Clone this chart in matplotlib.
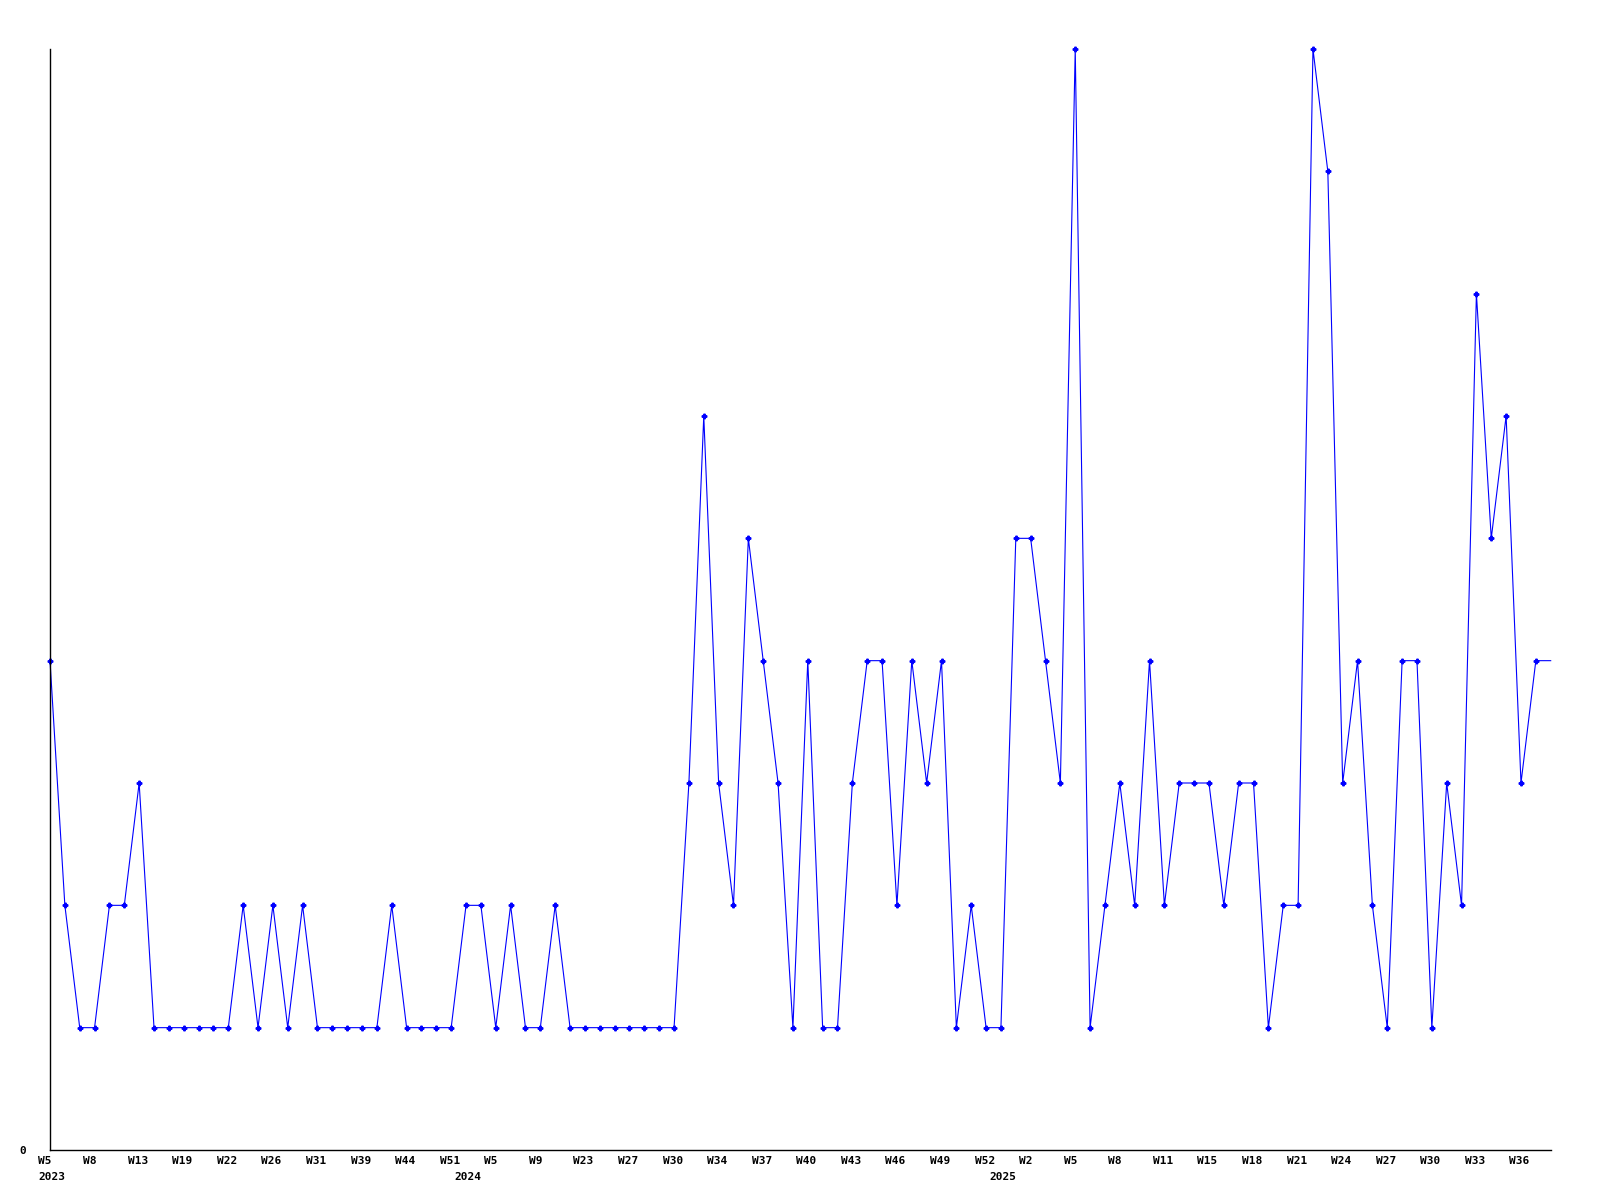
import matplotlib
matplotlib.use("Agg")
import matplotlib.pyplot as plt
from matplotlib.transforms import ScaledTranslation

# weekly counts, one point per week (last one is the open week, no marker)
values = [4, 2, 1, 1, 2, 2, 3, 1, 1, 1,
          1, 1, 1, 2, 1, 2, 1, 2, 1, 1,
          1, 1, 1, 2, 1, 1, 1, 1, 2, 2,
          1, 2, 1, 1, 2, 1, 1, 1, 1, 1,
          1, 1, 1, 3, 6, 3, 2, 5, 4, 3,
          1, 4, 1, 1, 3, 4, 4, 2, 4, 3,
          4, 1, 2, 1, 1, 5, 5, 4, 3, 9,
          1, 2, 3, 2, 4, 2, 3, 3, 3, 2,
          3, 3, 1, 2, 2, 9, 8, 3, 4, 2,
          1, 4, 4, 1, 3, 2, 7, 5, 6, 3,
          4, 4]

tick_pos = list(range(0, 100, 3))
tick_labels = ["W5", "W8", "W13", "W19", "W22", "W26", "W31", "W39", "W44", "W51",
               "W5", "W9", "W23", "W27", "W30", "W34", "W37", "W40", "W43", "W46",
               "W49", "W52", "W2", "W5", "W8", "W11", "W15", "W18", "W21", "W24",
               "W27", "W30", "W33", "W36"]
year_pos = [0, 28, 64]
year_labels = ["2023", "2024", "2025"]

x = list(range(len(values)))

fig = plt.figure(figsize=(16, 12), dpi=100)
ax = fig.add_axes([50 / 1600, 1 - 1150 / 1200, 1500.7 / 1600, 1101 / 1200])

ax.plot(x, values, color="#0000ff", linewidth=0.8, marker="P", markersize=3.3,
        markevery=list(range(len(values) - 1)), clip_on=False)

ax.set_xlim(0, len(values) - 1)
ax.set_ylim(0, 9)

for side in ["top", "right"]:
    ax.spines[side].set_visible(False)
for side in ["left", "bottom"]:
    ax.spines[side].set_linewidth(1.0)
    ax.spines[side].set_color("black")

font = dict(family="DejaVu Sans Mono", weight="bold", size=8)

ax.set_yticks([0])
ax.set_yticklabels(["0"], fontdict=font)
ax.tick_params(axis="y", length=0, pad=17)

ax.xaxis.remove_overlapping_locs = False
ax.set_xticks(tick_pos)
ax.set_xticklabels(tick_labels, fontdict=font, ha="left")
ax.set_xticks(year_pos, minor=True)
ax.set_xticklabels(year_labels, minor=True, fontdict=font, ha="left")
ax.tick_params(axis="x", which="major", length=0, pad=4)
ax.tick_params(axis="x", which="minor", length=0, pad=16)

shift = ScaledTranslation(-11.5 / 100, 0, fig.dpi_scale_trans)
for lbl in ax.get_xticklabels() + ax.get_xticklabels(minor=True):
    lbl.set_transform(lbl.get_transform() + shift)

fig.savefig("out.png", dpi=100, facecolor="white")
